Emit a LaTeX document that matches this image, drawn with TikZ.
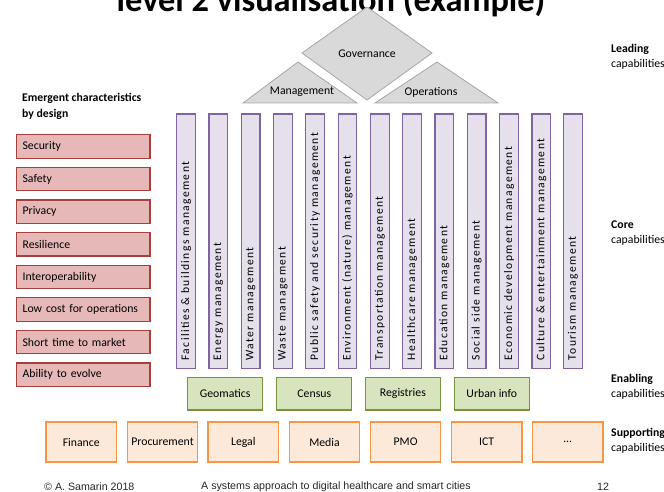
\documentclass[tikz,border=0pt]{standalone}
\usepackage{fontspec}
\setmainfont{Carlito}
\newfontfamily\spacedfont[LetterSpace=12]{Carlito}
\newfontfamily\footfont{Liberation Sans}
\definecolor{rosafondo}{HTML}{E6B9B8}
\definecolor{rosaborde}{HTML}{A5403C}
\definecolor{lilafondo}{HTML}{E5E0EC}
\definecolor{lilaborde}{HTML}{8064A2}
\definecolor{verdefondo}{HTML}{D7E4BD}
\definecolor{verdeborde}{HTML}{77933C}
\definecolor{naranjafondo}{HTML}{FDE9D9}
\definecolor{naranjaborde}{HTML}{F79646}
\definecolor{grisfondo}{HTML}{D9D9D9}
\definecolor{grisborde}{HTML}{A6A6A6}
\begin{document}
\begin{tikzpicture}[x=1bp, y=-1bp,
    lead/.style={fill=grisfondo, draw=grisborde, line width=0.8bp},
    emerg/.style={fill=rosafondo, draw=rosaborde, line width=1.2bp, anchor=west,
        text width=121.3bp, inner xsep=6bp, align=left, minimum height=23.5bp,
        font=\fontsize{11.8}{13}\selectfont},
    core/.style={fill=lilafondo, draw=lilaborde, line width=1.2bp, rotate=90, anchor=west,
        text width=238.3bp, inner xsep=8bp, inner ysep=0bp, align=left, minimum height=18.7bp,
        font=\spacedfont\fontsize{11.6}{13}\selectfont},
    enab/.style={fill=verdefondo, draw=verdeborde, line width=1.2bp,
        minimum width=75bp, minimum height=32.7bp, font=\fontsize{11.8}{13}\selectfont},
    supp/.style={fill=naranjafondo, draw=naranjaborde, line width=1.2bp,
        minimum width=70.5bp, minimum height=40bp, font=\fontsize{11.8}{13}\selectfont},
    nivel/.style={anchor=west, align=left, inner sep=0pt, font=\fontsize{11.8}{15}\selectfont}]
    \useasboundingbox (0,0) rectangle (664,492);

    % Titulo de la lamina, cortado por el borde superior.
    \node[anchor=base, font=\fontsize{34.5}{40}\selectfont\bfseries] (titulo) at (331,12)
        {level 2 visualisation (example)};

    % Capacidades de liderazgo: rombo y dos triangulos.
    \draw[lead] (367,7) -- (432,53) -- (367,100) -- (302,53) -- cycle;
    \draw[lead] (298,62) -- (357,103) -- (243,103) -- cycle;
    \draw[lead] (437,62) -- (498,103) -- (375,103) -- cycle;
    \node[font=\fontsize{11.8}{13}\selectfont] (gov) at (367,54) {Governance};
    \node[font=\fontsize{11.8}{13}\selectfont] (mgmt) at (302,92) {Management};
    \node[font=\fontsize{11.8}{13}\selectfont] (oper) at (431,92) {Operations};

    % Caracteristicas emergentes.
    \node[anchor=west, align=left, inner sep=0pt, font=\fontsize{11.8}{16.7}\selectfont\bfseries]
        (emtitulo) at (22,106.5) {Emergent characteristics\\by design};
    \node[emerg] (sec) at (16,146.5) {Security};
    \node[emerg] (saf) at (16,179.1) {Safety};
    \node[emerg] (pri) at (16,211.7) {Privacy};
    \node[emerg] (res) at (16,244.3) {Resilience};
    \node[emerg] (int) at (16,276.9) {Interoperability};
    \node[emerg] (low) at (16,309.5) {Low cost for operations};
    \node[emerg] (sho) at (16,342.1) {Short time to market};
    \node[emerg] (abi) at (16,374.7) {Ability to evolve};

    % Capacidades nucleo (columnas verticales).
    \node[core] (fac) at (186.0,369) {Facilities \& buildings management};
    \node[core] (ene) at (218.3,369) {Energy management};
    \node[core] (wat) at (250.6,369) {Water management};
    \node[core] (was) at (282.9,369) {Waste management};
    \node[core] (pub) at (315.2,369) {Public safety and security management};
    \node[core] (env) at (347.5,369) {Environment (nature) management};
    \node[core] (tra) at (379.8,369) {Transportation management};
    \node[core] (hea) at (412.1,369) {Healthcare management};
    \node[core] (edu) at (444.4,369) {Education management};
    \node[core] (soc) at (476.7,369) {Social side management};
    \node[core] (eco) at (509.0,369) {Economic development management};
    \node[core] (cul) at (541.3,369) {Culture \& entertainment management};
    \node[core] (tou) at (573.0,369) {Tourism management};

    % Capacidades habilitadoras.
    \node[enab] (geo) at (225.2,393.7) {Geomatics};
    \node[enab] (cen) at (314.3,393.7) {Census};
    \node[enab] (reg) at (402.9,393.7) {Registries};
    \node[enab] (urb) at (491.8,393.7) {Urban info};

    % Capacidades de soporte.
    \node[supp] (fin) at (81.3,442) {Finance};
    \node[supp] (pro) at (162.5,442) {Procurement};
    \node[supp] (leg) at (243.3,442) {Legal};
    \node[supp] (med) at (324.5,442) {Media};
    \node[supp] (pmo) at (405.6,442) {PMO};
    \node[supp] (ict) at (486.7,442) {ICT};
    \node[supp] (etc) at (567.7,442) {...};

    % Rotulos de nivel a la derecha.
    \node[nivel] (nlead) at (611,57) {\textbf{Leading}\\capabilities};
    \node[nivel] (ncore) at (611,233) {\textbf{Core}\\capabilities};
    \node[nivel] (nenab) at (611,387) {\textbf{Enabling}\\capabilities};
    \node[nivel] (nsupp) at (611,441) {\textbf{Supporting}\\capabilities};

    % Pie de lamina.
    \node[anchor=west, inner sep=0pt, font=\footfont\fontsize{10.7}{12}\selectfont, black!85]
        (autor) at (44,487) {\textcopyright{} A. Samarin 2018};
    \node[anchor=west, inner sep=0pt, font=\footfont\fontsize{10.7}{12}\selectfont, black!85]
        (tema) at (201,487) {A systems approach to digital healthcare and smart cities};
    \node[anchor=west, inner sep=0pt, font=\footfont\fontsize{10.7}{12}\selectfont, black!85]
        (pagina) at (597,487) {12};
\end{tikzpicture}
\end{document}
